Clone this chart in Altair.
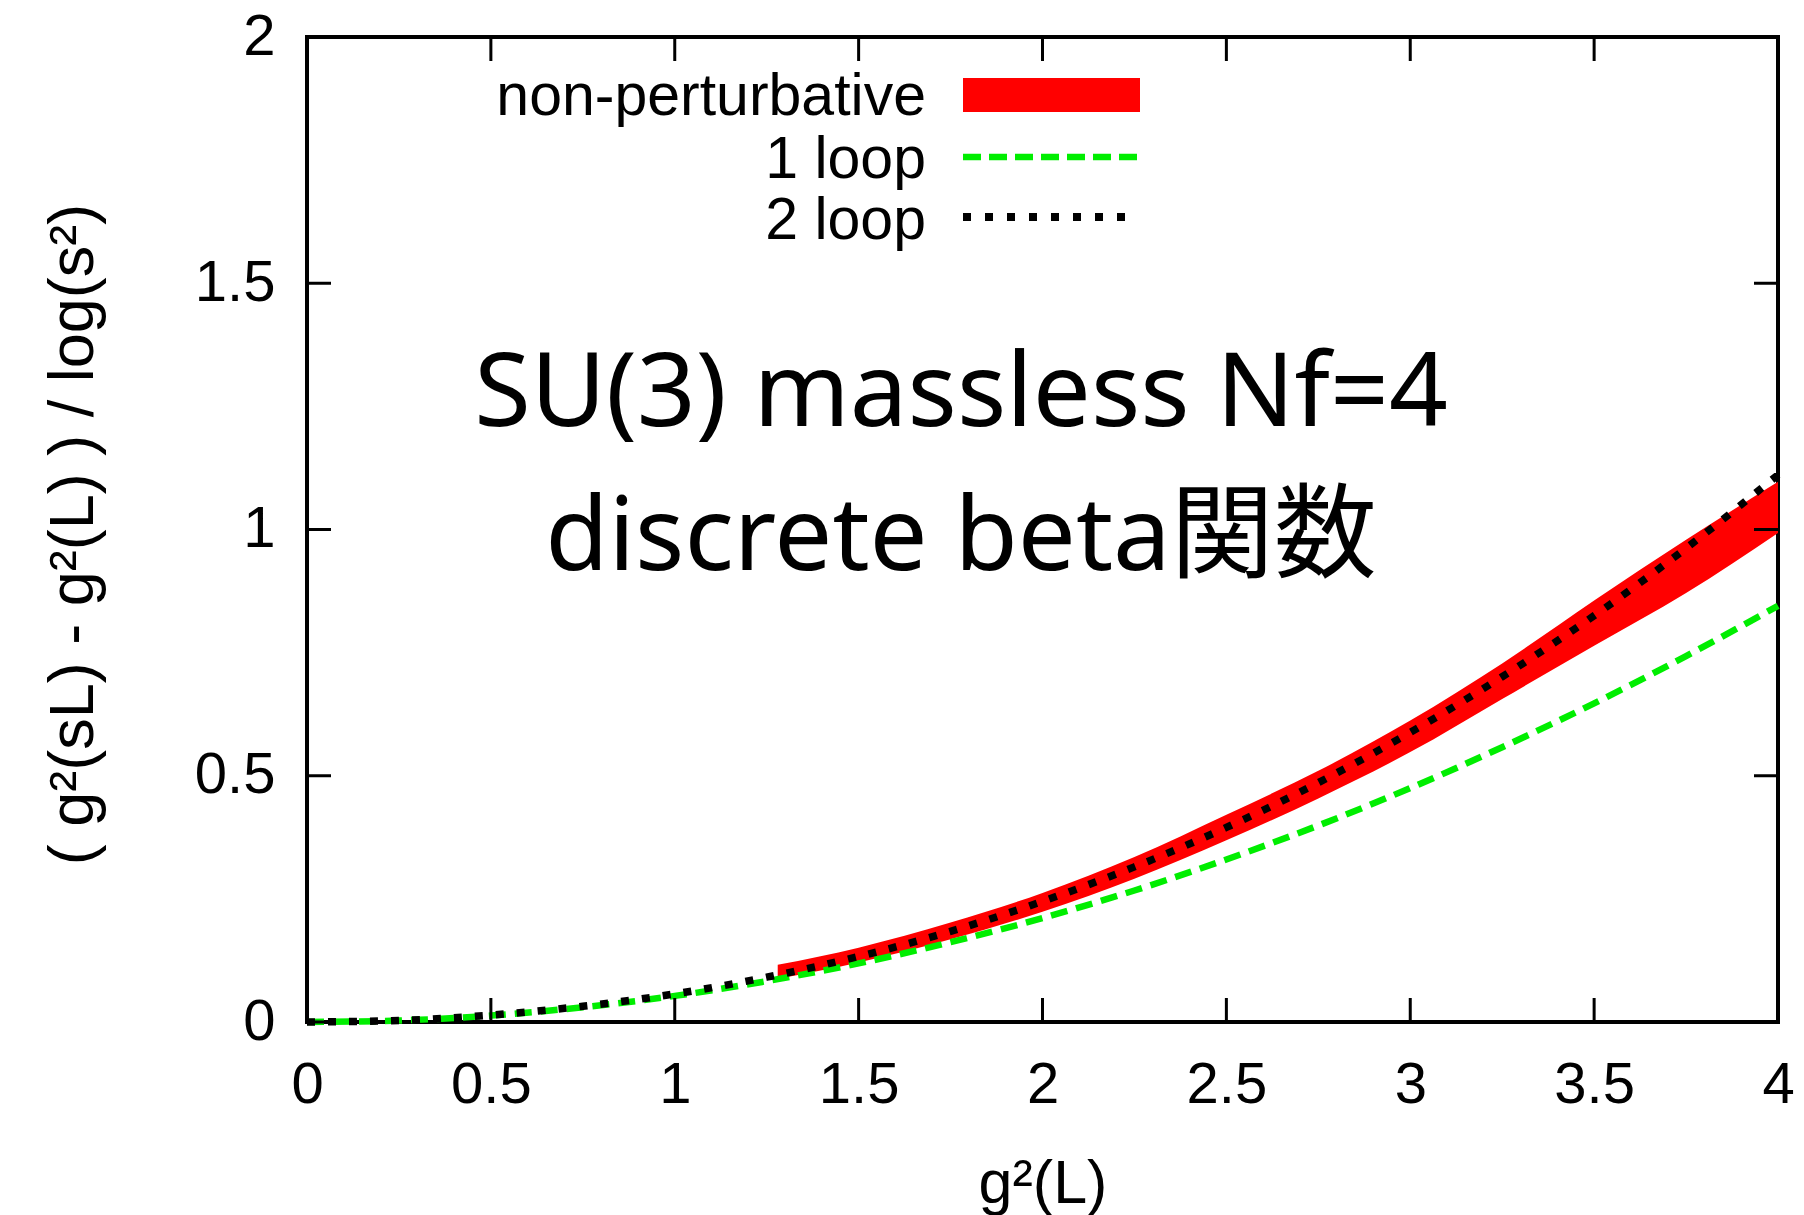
import altair as alt
import pandas as pd

# ---- data ----
g2_grid = [0.0, 0.25, 0.5, 0.75, 1.0, 1.25, 1.5, 1.75, 2.0, 2.25, 2.5, 2.75, 3.0, 3.25, 3.5, 3.75, 4.0]
one_loop = [0.000, 0.003, 0.013, 0.030, 0.053, 0.083, 0.119, 0.162, 0.211, 0.267, 0.330, 0.399, 0.475, 0.558, 0.647, 0.743, 0.845]
two_loop = [0.000, 0.003, 0.014, 0.032, 0.057, 0.091, 0.133, 0.184, 0.245, 0.315, 0.395, 0.486, 0.588, 0.701, 0.825, 0.962, 1.111]

np_g2 = [1.28, 1.5, 1.75, 2.0, 2.25, 2.5, 2.75, 3.0, 3.25, 3.5, 3.75, 4.0]
np_lower = [0.088, 0.121, 0.168, 0.224, 0.291, 0.369, 0.454, 0.548, 0.656, 0.764, 0.871, 0.993]
np_upper = [0.116, 0.151, 0.202, 0.262, 0.335, 0.421, 0.510, 0.612, 0.728, 0.856, 0.979, 1.097]

x_ticks = [0, 0.5, 1, 1.5, 2, 2.5, 3, 3.5, 4]
y_ticks = [0, 0.5, 1, 1.5, 2]

legend_labels = ["non-perturbative", "1 loop", "2 loop"]
annotation_lines = ["SU(3) massless Nf=4", "discrete beta関数"]

x_title = "g²(L)"
y_title = "( g²(sL) - g²(L) ) / log(s²)"

W, H = 1471, 985
FONT = "Liberation Sans"

curves = pd.DataFrame({"g2": g2_grid, "one": one_loop, "two": two_loop})
band = pd.DataFrame({"g2": np_g2, "lo": np_lower, "hi": np_upper})
xt = pd.DataFrame({"t": x_ticks})
yt = pd.DataFrame({"t": y_ticks})
one_row = alt.Data(values=[{"a": 1}])

xscale = alt.Scale(domain=[0, 4], nice=False, zero=False)
yscale = alt.Scale(domain=[0, 2], nice=False, zero=False)

xaxis = alt.Axis(values=x_ticks, format="~g", grid=False, ticks=False, domain=False,
                 labelFont=FONT, labelFontSize=58, labelColor="black", labelPadding=34,
                 labelFlush=False,
                 title=x_title, titleFont=FONT, titleFontSize=61, titleFontWeight="normal",
                 titleColor="black", titleX=W / 2, titleY=180, titleBaseline="alphabetic",
                 titleAlign="center")
yaxis = alt.Axis(values=y_ticks, format="~g", grid=False, ticks=False, domain=False,
                 labelFont=FONT, labelFontSize=58, labelColor="black", labelPadding=32,
                 labelFlush=False,
                 title=y_title, titleFont=FONT, titleFontSize=63, titleFontWeight="normal",
                 titleColor="black", titleX=-215, titleY=497, titleAngle=-90,
                 titleBaseline="alphabetic", titleAlign="center")

band_layer = alt.Chart(band).mark_area(color="#ff0000", opacity=1, interpolate="monotone").encode(
    x=alt.X("g2:Q", scale=xscale, axis=xaxis),
    y=alt.Y("lo:Q", scale=yscale, axis=yaxis),
    y2="hi:Q",
)

one_layer = alt.Chart(curves).mark_line(color="#00ee00", strokeWidth=6.5, strokeDash=[17, 9],
                                        interpolate="monotone").encode(
    x=alt.X("g2:Q", scale=xscale), y=alt.Y("one:Q", scale=yscale))

two_layer = alt.Chart(curves).mark_line(color="black", strokeWidth=7.5, strokeDash=[8, 13],
                                        interpolate="monotone").encode(
    x=alt.X("g2:Q", scale=xscale), y=alt.Y("two:Q", scale=yscale))

TL = 24
tick_style = dict(color="black", strokeWidth=3)
bottom_ticks = alt.Chart(xt).mark_rule(**tick_style).encode(
    x=alt.X("t:Q", scale=xscale), y=alt.value(H), y2=alt.value(H - TL))
top_ticks = alt.Chart(xt).mark_rule(**tick_style).encode(
    x=alt.X("t:Q", scale=xscale), y=alt.value(0), y2=alt.value(TL))
left_ticks = alt.Chart(yt).mark_rule(**tick_style).encode(
    y=alt.Y("t:Q", scale=yscale), x=alt.value(0), x2=alt.value(TL))
right_ticks = alt.Chart(yt).mark_rule(**tick_style).encode(
    y=alt.Y("t:Q", scale=yscale), x=alt.value(W), x2=alt.value(W - TL))

# legend (gnuplot style: label then sample)
leg_x_text = 619
leg_y = [78, 141, 202]
leg_texts = [
    alt.Chart(one_row).mark_text(font=FONT, fontSize=59, align="right", baseline="alphabetic",
                                 color="black").encode(
        x=alt.value(leg_x_text), y=alt.value(yy), text=alt.value(lab))
    for lab, yy in zip(legend_labels, leg_y)
]
leg_red = alt.Chart(one_row).mark_rect(color="#ff0000").encode(
    x=alt.value(656), x2=alt.value(833), y=alt.value(41), y2=alt.value(75))
leg_green = alt.Chart(one_row).mark_rule(color="#00ee00", strokeWidth=6.5, strokeDash=[18, 8]).encode(
    x=alt.value(656), x2=alt.value(833), y=alt.value(120))
leg_black = alt.Chart(one_row).mark_rule(color="black", strokeWidth=8, strokeDash=[8, 14]).encode(
    x=alt.value(656), x2=alt.value(822), y=alt.value(180))

ann_y = [389, 533]
ann = [
    alt.Chart(one_row).mark_text(font="Noto Sans, Noto Sans CJK JP", fontSize=103, align="center",
                                 baseline="alphabetic", color="black").encode(
        x=alt.value(654), y=alt.value(yy), text=alt.value(t))
    for t, yy in zip(annotation_lines, ann_y)
]

chart = alt.layer(
    band_layer, one_layer, two_layer,
    bottom_ticks, top_ticks, left_ticks, right_ticks,
    *leg_texts, leg_red, leg_green, leg_black, *ann
).properties(
    width=W, height=H,
    autosize=alt.AutoSizeParams(type="none"),
    padding={"left": 307, "top": 37, "right": 26, "bottom": 193},
    background="white",
).configure_view(stroke="black", strokeWidth=4)

chart.save("out.html", embed_options={"renderer": "svg", "actions": False})
